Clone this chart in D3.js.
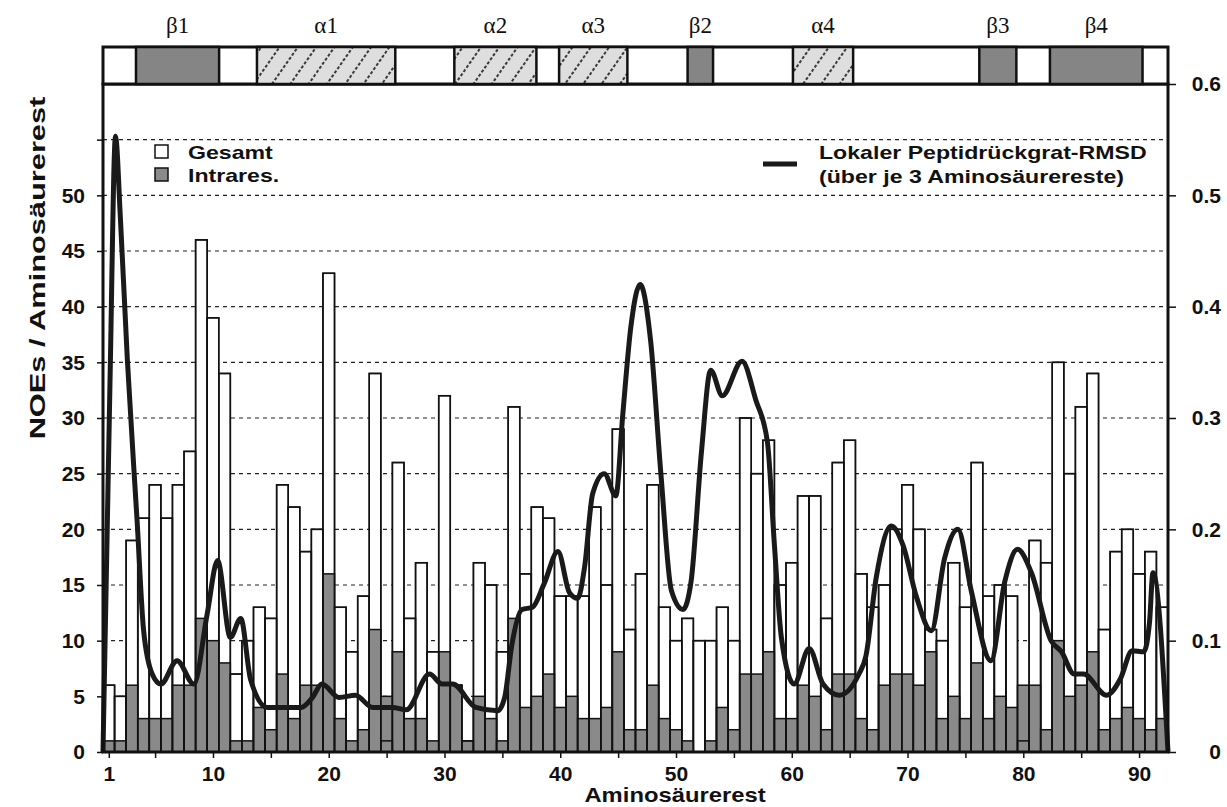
<!DOCTYPE html>
<html lang="de">
<head>
<meta charset="UTF-8">
<title>NOEs / Aminosäurerest</title>
<script src="https://cdn.jsdelivr.net/npm/d3@7"></script>
<style>
  body, html {margin: 0; padding: 0; background: #fff;}
  svg {display: block;}
  text {font-family: "Liberation Sans", Arial, sans-serif; font-weight: bold; fill: #111;}
  .ss text {font-family: "Liberation Serif", "DejaVu Serif", serif; font-weight: normal;}
</style>
</head>
<body>
<div class="marco"></div>
<script>
// NOEs pro Aminosäurerest (1..92)
const gesamt = [6, 5, 19, 21, 24, 21, 24, 27, 46, 39,
                34, 7, 10, 13, 12, 24, 22, 18, 20, 43,
                13, 9, 14, 34, 1, 26, 12, 17, 9, 32,
                6, 1, 17, 15, 9, 31, 16, 22, 21, 14,
                14, 14, 22, 15, 29, 11, 16, 24, 13, 10,
                12, 10, 10, 13, 10, 30, 25, 28, 15, 17,
                23, 23, 12, 26, 28, 16, 13, 15, 20, 24,
                20, 11, 10, 17, 13, 26, 14, 15, 14, 1,
                19, 17, 35, 25, 31, 34, 11, 18, 20, 16,
                18, 13];
const intrares = [1, 1, 6, 3, 3, 3, 6, 6, 12, 10,
                  8, 1, 1, 4, 2, 7, 3, 6, 6, 16,
                  3, 1, 2, 11, 5, 9, 3, 3, 1, 9,
                  6, 1, 5, 3, 1, 12, 4, 5, 7, 4,
                  5, 3, 3, 4, 9, 2, 2, 6, 3, 2,
                  1, 0, 1, 4, 2, 7, 7, 9, 3, 3,
                  6, 5, 2, 7, 7, 3, 2, 6, 7, 7,
                  6, 9, 3, 5, 3, 8, 3, 5, 4, 6,
                  6, 2, 10, 5, 6, 9, 2, 3, 4, 3,
                  2, 3];
const residues = d3.range(1, gesamt.length + 1);

// lokaler RMSD [Rest, Wert]
const rmsd = [[0.5, 0], [1.1, 0.33], [1.58, 0.553], [2.0, 0.48], [2.6, 0.353], [3.45, 0.207],
  [4.0, 0.11], [4.75, 0.07], [5.5, 0.061], [6.9, 0.082], [8.35, 0.061], [9.5, 0.124],
  [10.4, 0.172], [11.5, 0.103], [12.4, 0.12], [13.25, 0.065], [14.7, 0.04], [16.2, 0.04],
  [17.6, 0.04], [18.6, 0.049], [19.4, 0.061], [20.9, 0.049], [22.3, 0.051], [23.8, 0.04],
  [25.5, 0.04], [26.7, 0.038], [28.7, 0.07], [29.8, 0.061], [30.7, 0.061], [32.7, 0.04],
  [34.6, 0.037], [35.2, 0.049], [35.8, 0.095], [36.7, 0.128], [37.6, 0.13], [38.6, 0.151],
  [39.8, 0.18], [40.8, 0.143], [41.5, 0.138], [42.1, 0.166], [42.8, 0.232], [43.8, 0.25],
  [44.8, 0.23], [45.4, 0.303], [46.1, 0.382], [46.9, 0.42], [47.8, 0.37], [48.7, 0.249],
  [49.6, 0.145], [50.6, 0.128], [51.3, 0.153], [52.2, 0.27], [53.0, 0.343], [54.0, 0.32],
  [55.7, 0.351], [56.9, 0.316], [57.9, 0.278], [58.5, 0.186], [59.1, 0.103], [60.2, 0.061],
  [61.5, 0.093], [62.7, 0.061], [64.1, 0.051], [65.8, 0.07], [66.4, 0.086], [67.3, 0.157],
  [68.6, 0.203], [69.6, 0.186], [70.75, 0.14], [72.05, 0.109], [73.2, 0.174], [74.35, 0.2],
  [75.5, 0.145], [77.2, 0.082], [78.4, 0.153], [79.5, 0.182], [80.7, 0.161], [82.4, 0.1],
  [83.3, 0.09], [84.4, 0.07], [85.2, 0.07], [87.2, 0.051], [88.4, 0.066], [89.4, 0.091],
  [90.4, 0.09], [90.9, 0.116], [91.2, 0.161], [92.5, 0]];

// Sekundärstruktur
const ssName  = ["β1", "α1", "α2", "α3", "β2", "α4", "β3", "β4"];
const ssType  = ["beta", "alpha", "alpha", "alpha", "beta", "alpha", "beta", "beta"];
const ssStart = [3.35, 13.8, 30.85, 39.9, 51.0, 60.1, 76.2, 82.3];
const ssEnd   = [10.53, 25.75, 37.94, 45.8, 53.2, 65.3, 79.4, 90.3];

const xTicks = [1, 5, 10, 15, 20, 25, 30, 35, 40, 45, 50, 55, 60, 65, 70, 75, 80, 85, 90];
const xLabels = [1, 10, 20, 30, 40, 50, 60, 70, 80, 90];
const yTicksLeft = [0, 5, 10, 15, 20, 25, 30, 35, 40, 45, 50, 55];
const yLabelsLeft = [0, 5, 10, 15, 20, 25, 30, 35, 40, 45, 50];
const yTicksRight = [0, 0.1, 0.2, 0.3, 0.4, 0.5, 0.6];

// Grundgrößen
var width = 1227, height = 807,
    plot = {left: 103, right: 1168, top: 84, bottom: 752},
    bandTop = 47;

var svg = d3.select(".marco").append("svg")
  .attr("width", width)
  .attr("height", height);

var x = d3.scaleLinear().domain([0.5, 92.5]).range([plot.left, plot.right]),
    yL = d3.scaleLinear().domain([0, 60]).range([plot.bottom, plot.top]),
    yR = d3.scaleLinear().domain([0, 0.6]).range([plot.bottom, plot.top]);

// Schraffur für Helices
var defs = svg.append("defs");
var pat = defs.append("pattern")
  .attr("id", "hatch")
  .attr("patternUnits", "userSpaceOnUse")
  .attr("width", 15).attr("height", 15)
  .attr("patternTransform", "rotate(35)");
pat.append("rect").attr("width", 15).attr("height", 15).attr("fill", "#dedede");
pat.append("line").attr("x1", 1).attr("y1", 0).attr("x2", 1).attr("y2", 15)
  .attr("stroke", "#111").attr("stroke-width", 1.6).attr("stroke-dasharray", "3,2");

// Gitterlinien
svg.append("g").selectAll("line")
  .data(d3.range(5, 60, 5))
  .enter().append("line")
  .attr("x1", plot.left).attr("x2", plot.right)
  .attr("y1", d => yL(d)).attr("y2", d => yL(d))
  .attr("stroke", "#222").attr("stroke-width", 1.2)
  .attr("stroke-dasharray", "4,4");

var bw = x(1.5) - x(0.5);

// Balken Gesamt
svg.append("g").selectAll("rect")
  .data(residues)
  .enter().append("rect")
  .attr("x", r => x(r - 0.5))
  .attr("y", r => yL(gesamt[r - 1]))
  .attr("width", bw)
  .attr("height", r => plot.bottom - yL(gesamt[r - 1]))
  .attr("fill", "#fff").attr("stroke", "#111").attr("stroke-width", 1.5);

// Balken Intrares.
svg.append("g").selectAll("rect")
  .data(residues)
  .enter().append("rect")
  .attr("x", r => x(r - 0.5))
  .attr("y", r => yL(intrares[r - 1]))
  .attr("width", bw)
  .attr("height", r => plot.bottom - yL(intrares[r - 1]))
  .attr("fill", "#8a8a8a").attr("stroke", "#111").attr("stroke-width", 1.5);

// Umrisse Gesamt obenauf
svg.append("g").selectAll("rect")
  .data(residues)
  .enter().append("rect")
  .attr("x", r => x(r - 0.5))
  .attr("y", r => yL(gesamt[r - 1]))
  .attr("width", bw)
  .attr("height", r => plot.bottom - yL(gesamt[r - 1]))
  .attr("fill", "none").attr("stroke", "#111").attr("stroke-width", 1.5);

// RMSD-Kurve
var line = d3.line()
  .x(d => x(d[0]))
  .y(d => yR(d[1]))
  .curve(d3.curveMonotoneX);

svg.append("path")
  .datum(rmsd)
  .attr("d", line)
  .attr("fill", "none")
  .attr("stroke", "#1a1a1a")
  .attr("stroke-width", 5)
  .attr("stroke-linejoin", "round");

// Achsen
function styleAxis(g) {
  g.select(".domain").remove();
  g.selectAll(".tick line").attr("stroke", "#111").attr("stroke-width", 1.5);
  g.selectAll(".tick text").attr("font-size", 21).attr("fill", "#111");
}

svg.append("g")
  .attr("transform", `translate(${plot.left}, 0)`)
  .call(d3.axisLeft(yL).tickValues(yTicksLeft).tickSize(6).tickPadding(12)
    .tickFormat(d => yLabelsLeft.includes(d) ? d : ""))
  .call(styleAxis);

svg.append("g")
  .attr("transform", `translate(${plot.right}, 0)`)
  .call(d3.axisRight(yR).tickValues(yTicksRight).tickSize(8)
    .tickFormat(d => d === 0 ? "0" : d3.format(".1f")(d)))
  .call(styleAxis)
  .call(g => g.selectAll(".tick text").attr("text-anchor", "end").attr("x", 53));

svg.append("g")
  .attr("transform", `translate(0, ${plot.bottom})`)
  .call(d3.axisBottom(x).tickValues(xTicks).tickSize(6).tickPadding(8)
    .tickFormat(d => xLabels.includes(d) ? d : ""))
  .call(styleAxis);

// Rahmen
svg.append("rect")
  .attr("x", plot.left).attr("y", plot.top)
  .attr("width", plot.right - plot.left).attr("height", plot.bottom - plot.top)
  .attr("fill", "none").attr("stroke", "#111").attr("stroke-width", 3);

// Sekundärstrukturband
var band = svg.append("g").attr("class", "ss");
band.append("rect")
  .attr("x", plot.left).attr("y", bandTop)
  .attr("width", plot.right - plot.left).attr("height", plot.top - bandTop)
  .attr("fill", "#fff").attr("stroke", "#111").attr("stroke-width", 3);

band.selectAll(".seg")
  .data(ssName)
  .enter().append("rect")
  .attr("class", "seg")
  .attr("x", (d, i) => x(ssStart[i]))
  .attr("y", bandTop)
  .attr("width", (d, i) => x(ssEnd[i]) - x(ssStart[i]))
  .attr("height", plot.top - bandTop)
  .attr("fill", (d, i) => ssType[i] === "beta" ? "#858585" : "url(#hatch)")
  .attr("stroke", "#111").attr("stroke-width", 2.5);

band.selectAll("text")
  .data(ssName)
  .enter().append("text")
  .attr("x", (d, i) => (x(ssStart[i]) + x(ssEnd[i])) / 2)
  .attr("y", 33)
  .attr("text-anchor", "middle")
  .attr("font-size", 23)
  .text(d => d);

// gestreckte Beschriftung
function wideText(tx, ty, str, size, sx, rot) {
  return svg.append("text")
    .attr("transform", `translate(${tx}, ${ty})` + (rot ? ` rotate(${rot})` : "") + ` scale(${sx}, 1)`)
    .attr("font-size", size)
    .text(str);
}

// Legende links
svg.append("rect").attr("x", 155).attr("y", 145).attr("width", 13).attr("height", 13)
  .attr("fill", "#fff").attr("stroke", "#111").attr("stroke-width", 1.5);
svg.append("rect").attr("x", 155).attr("y", 168).attr("width", 13).attr("height", 13)
  .attr("fill", "#8a8a8a").attr("stroke", "#111").attr("stroke-width", 1.5);
wideText(188, 158.5, "Gesamt", 18.5, 1.25);
wideText(188, 181.5, "Intrares.", 18.5, 1.25);

// Legende rechts
svg.append("line").attr("x1", 763).attr("x2", 797).attr("y1", 164).attr("y2", 164)
  .attr("stroke", "#1a1a1a").attr("stroke-width", 5);
wideText(819, 159, "Lokaler Peptidrückgrat-RMSD", 18.5, 1.25);
wideText(819, 183, "(über je 3 Aminosäurereste)", 18.5, 1.25);

// Achsentitel
wideText(675, 802, "Aminosäurerest", 19.5, 1.22)
  .attr("text-anchor", "middle");
wideText(45, 268, "NOEs / Aminosäurerest", 22, 1.4, -90)
  .attr("text-anchor", "middle");
</script>
</body>
</html>
